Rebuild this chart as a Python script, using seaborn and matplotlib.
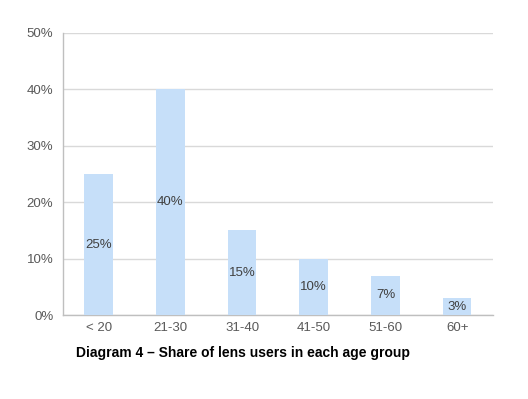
#!/usr/bin/env python3
"""Share of lens users by age group — bar chart."""

import matplotlib

matplotlib.use("Agg")
import matplotlib.pyplot as plt
import pandas as pd
import seaborn as sns
from matplotlib.ticker import FuncFormatter

AGE_GROUPS = ["< 20", "21-30", "31-40", "41-50", "51-60", "60+"]
SHARES = [0.25, 0.40, 0.15, 0.10, 0.07, 0.03]
Y_TICKS = [0.0, 0.1, 0.2, 0.3, 0.4, 0.5]
TITLE = "Diagram 4 \u2013 Share of lens users in each age group"

BAR_COLOR = "#c6dff9"
TEXT_GRAY = "#595959"
GRID_GRAY = "#d9d9d9"


def main() -> None:
    sns.set_style("white")
    plt.rcParams["font.family"] = ["Liberation Sans", "DejaVu Sans"]

    df = pd.DataFrame({"age": AGE_GROUPS, "share": SHARES})

    fig = plt.figure(figsize=(5.28, 3.99), dpi=100)
    ax = fig.add_axes([0.1193, 0.2105, 0.8144, 0.7068])

    sns.barplot(data=df, x="age", y="share", color=BAR_COLOR, width=0.4,
                saturation=1, linewidth=0, edgecolor="none", ax=ax, zorder=3)

    for i, v in enumerate(df["share"]):
        ax.text(i, v / 2, f"{v:.0%}", ha="center", va="center",
                fontsize=9.5, color="#404040", zorder=4)

    ax.set_ylim(0, 0.5)
    ax.set_yticks(Y_TICKS)
    ax.yaxis.set_major_formatter(FuncFormatter(lambda y, _: f"{y:.0%}"))
    ax.grid(axis="y", color=GRID_GRAY, linewidth=1, zorder=0)
    ax.set_xlabel("")
    ax.set_ylabel("")
    ax.tick_params(axis="both", length=0, labelsize=9.5, colors=TEXT_GRAY)
    ax.tick_params(axis="x", pad=5)
    ax.tick_params(axis="y", pad=7)

    for side in ("top", "right"):
        ax.spines[side].set_visible(False)
    for side in ("left", "bottom"):
        ax.spines[side].set_color("#bfbfbf")
        ax.spines[side].set_linewidth(1)

    fig.text(76 / 528, 1 - 353 / 399, TITLE, ha="left", va="center",
             fontsize=10, fontweight="bold", color="black")

    fig.savefig("out.png", dpi=100)
    plt.close(fig)


if __name__ == "__main__":
    main()
